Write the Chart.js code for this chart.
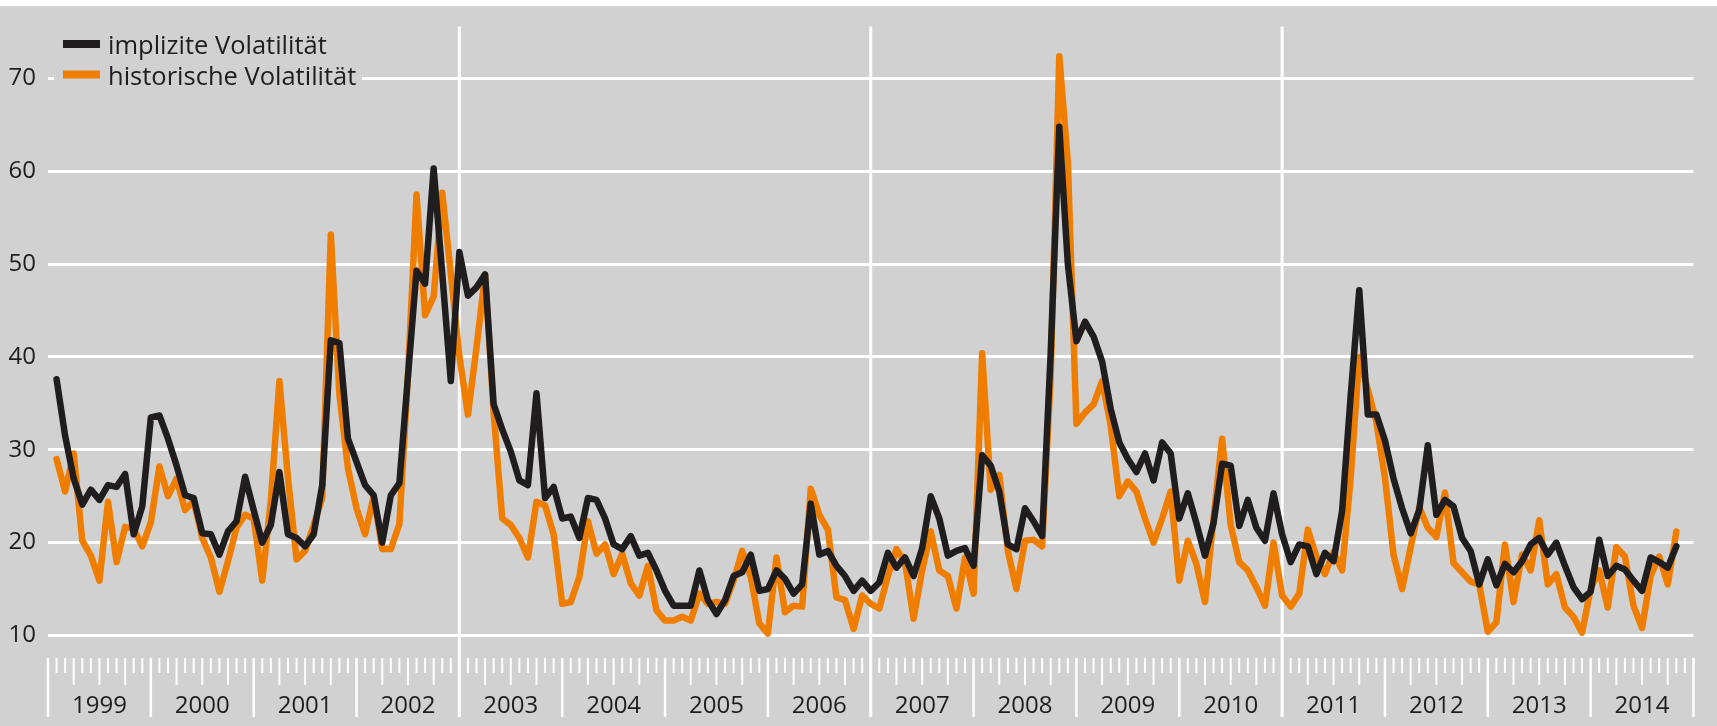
<!DOCTYPE html>
<html>
<head>
<meta charset="utf-8">
<script src="https://cdn.jsdelivr.net/npm/chart.js@4/dist/chart.umd.min.js"></script>
<style>
  html, body { margin: 0; padding: 0; background: #ffffff; }
  #wrap { width: 1717px; height: 726px; position: relative; }
  canvas { display: block; }
</style>
</head>
<body>
<div id="wrap"><canvas id="c" width="1717" height="726"></canvas></div>
<script>
// ---- data (monthly values, 1999 – 2014) ----
const years = ['1999','2000','2001','2002','2003','2004','2005','2006','2007','2008','2009','2010','2011','2012','2013','2014'];
const yTicks = [10, 20, 30, 40, 50, 60, 70];
const seriesNames = ['implizite Volatilität', 'historische Volatilität'];

const impliedVol = [
  37.6, 31.5, 26.9, 24.1, 25.7, 24.6, 26.2, 26.0, 27.4, 20.9,
  23.9, 33.5, 33.7, 31.2, 28.3, 25.1, 24.8, 21.0, 20.9, 18.7,
  21.2, 22.3, 27.1, 23.5, 20.0, 21.9, 27.6, 20.9, 20.5, 19.6,
  20.9, 26.2, 41.8, 41.5, 31.2, 28.7, 26.2, 25.1, 20.0, 25.1,
  26.4, 37.9, 49.3, 47.9, 60.3, 49.0, 37.4, 51.3, 46.6, 47.5,
  48.9, 34.9, 32.2, 29.8, 26.7, 26.2, 36.1, 24.8, 26.0, 22.6,
  22.8, 20.5, 24.8, 24.6, 22.6, 19.8, 19.3, 20.7, 18.6, 18.9,
  17.0, 14.8, 13.2, 13.2, 13.2, 17.0, 13.8, 12.3, 13.8, 16.4,
  16.8, 18.7, 14.8, 15.0, 17.0, 16.1, 14.5, 15.5, 24.2, 18.7,
  19.1, 17.5, 16.4, 14.8, 15.9, 14.8, 15.7, 18.9, 17.3, 18.4,
  16.4, 19.4, 25.0, 22.6, 18.6, 19.1, 19.4, 17.5, 29.4, 28.3,
  25.5, 19.8, 19.3, 23.7, 22.3, 20.7, 40.5, 64.8, 50.0, 41.7,
  43.8, 42.2, 39.5, 34.4, 30.8, 29.0, 27.6, 29.6, 26.7, 30.8,
  29.6, 22.6, 25.3, 22.1, 18.6, 22.1, 28.5, 28.3, 21.8, 24.6,
  21.6, 20.2, 25.3, 20.9, 17.9, 19.8, 19.6, 16.6, 18.9, 18.0,
  23.4, 35.8, 47.2, 33.8, 33.8, 31.0, 26.9, 23.7, 21.0, 23.5,
  30.5, 23.0, 24.6, 23.9, 20.5, 19.1, 15.5, 18.2, 15.4, 17.7,
  16.8, 18.0, 19.8, 20.5, 18.7, 20.0, 17.5, 15.2, 13.9, 14.7,
  20.3, 16.4, 17.5, 17.1, 15.9, 14.8, 18.4, 17.9, 17.3, 19.6
];

const historicalVol = [
  29.0, 25.5, 29.6, 20.2, 18.6, 15.9, 24.4, 17.9, 21.7, 21.5,
  19.6, 22.2, 28.2, 25.0, 26.9, 23.5, 24.5, 20.5, 18.4, 14.7,
  18.0, 21.6, 23.0, 22.6, 15.9, 24.5, 37.4, 27.0, 18.2, 19.1,
  21.9, 24.8, 53.2, 36.0, 28.0, 23.7, 20.9, 25.0, 19.3, 19.3,
  22.0, 38.0, 57.5, 44.5, 46.5, 57.7, 49.0, 40.1, 33.8, 41.0,
  48.9, 34.0, 22.6, 21.9, 20.5, 18.4, 24.4, 24.0, 20.9, 13.4,
  13.6, 16.3, 22.3, 18.8, 19.8, 16.6, 18.8, 15.6, 14.3, 17.5,
  12.7, 11.6, 11.6, 12.0, 11.6, 14.5, 13.4, 13.6, 13.4, 15.9,
  19.1, 16.3, 11.3, 10.2, 18.4, 12.5, 13.2, 13.1, 25.8, 23.0,
  21.4, 14.1, 13.8, 10.7, 14.3, 13.4, 12.9, 16.4, 19.3, 17.9,
  11.8, 17.0, 21.2, 17.0, 16.4, 12.9, 18.4, 14.5, 40.4, 25.7,
  27.3, 19.1, 15.0, 20.2, 20.3, 19.6, 38.0, 72.4, 61.0, 32.8,
  34.0, 34.9, 37.4, 32.6, 25.0, 26.6, 25.5, 22.6, 20.0, 22.6,
  25.5, 15.9, 20.2, 17.7, 13.6, 22.6, 31.2, 21.9, 17.9, 17.0,
  15.2, 13.2, 20.0, 14.3, 13.1, 14.5, 21.4, 18.5, 16.6, 19.0,
  17.0, 27.0, 40.0, 36.5, 33.0, 27.0, 18.7, 15.0, 19.5, 23.8,
  21.6, 20.6, 25.4, 17.8, 16.8, 15.8, 15.5, 10.4, 11.4, 19.8,
  13.6, 18.7, 17.0, 22.4, 15.5, 16.6, 13.0, 12.0, 10.3, 15.0,
  17.0, 13.0, 19.5, 18.5, 13.2, 10.8, 16.4, 18.5, 15.5, 21.2
];

// ---- styling ----
const BG = '#d1d1d1';
const TEXT = '#1e1e1e';
const FONT = '"Open Sans", "Noto Sans", sans-serif';
const colImplied = '#1f1d1e';
const colHist = '#ef7d00';

const totalMonths = years.length * 12;
const toPoints = arr => arr.map((v, i) => ({ x: i + 1, y: v }));

const bgPlugin = {
  id: 'bgPlugin',
  beforeDraw(chart) {
    const { ctx, width, height } = chart;
    ctx.save();
    ctx.fillStyle = '#ffffff';
    ctx.fillRect(0, 0, width, height);
    ctx.fillStyle = BG;
    ctx.fillRect(0, 6, width, height - 6);
    ctx.restore();
  }
};

const monthTicks = {
  id: 'monthTicks',
  beforeDatasetsDraw(chart) {
    const { ctx, chartArea, scales } = chart;
    const x = scales.x;
    const top = x.top + 13;
    ctx.save();
    ctx.strokeStyle = '#ffffff';
    for (let m = 0; m <= totalMonths; m++) {
      const px = x.getPixelForValue(m);
      let y0 = top, y1;
      if (m % 48 === 0 && m > 0 && m < totalMonths) {
        ctx.lineWidth = 3; y0 = chartArea.top; y1 = x.top + 72;
      } else if (m % 12 === 0) {
        ctx.lineWidth = 2.5; y1 = x.top + 72;
      } else if (m % 3 === 0) {
        ctx.lineWidth = 2; y1 = x.top + 40;
      } else {
        ctx.lineWidth = 2; y1 = x.top + 28;
      }
      ctx.beginPath();
      ctx.moveTo(px, y0);
      ctx.lineTo(px, y1);
      ctx.stroke();
    }
    ctx.restore();
  }
};

const boxLegend = {
  id: 'boxLegend',
  afterDraw(chart) {
    const ctx = chart.ctx;
    ctx.save();
    ctx.fillStyle = BG;
    ctx.fillRect(54, 28, 308, 64);
    chart.data.datasets.forEach((ds, k) => {
      const base = 54 + k * 30.5;
      ctx.strokeStyle = ds.borderColor;
      ctx.lineWidth = 8;
      ctx.lineCap = 'butt';
      ctx.beginPath();
      ctx.moveTo(63, base - 10);
      ctx.lineTo(100, base - 10);
      ctx.stroke();
      ctx.fillStyle = TEXT;
      ctx.font = '25.5px ' + FONT;
      ctx.textBaseline = 'alphabetic';
      ctx.textAlign = 'left';
      ctx.fillText(ds.label, 108, base);
    });
    ctx.restore();
  }
};

new Chart(document.getElementById('c'), {
  type: 'line',
  data: {
    datasets: [
      {
        label: seriesNames[0],
        data: toPoints(impliedVol),
        borderColor: colImplied,
        borderWidth: 6.5,
        pointRadius: 0,
        borderJoinStyle: 'round',
        borderCapStyle: 'round',
        tension: 0,
        fill: false
      },
      {
        label: seriesNames[1],
        data: toPoints(historicalVol),
        borderColor: colHist,
        borderWidth: 6.5,
        pointRadius: 0,
        borderJoinStyle: 'round',
        borderCapStyle: 'round',
        tension: 0,
        fill: false
      }
    ]
  },
  options: {
    responsive: false,
    animation: false,
    devicePixelRatio: 1,
    layout: { padding: { top: 20, right: 16, left: 0, bottom: 0 } },
    plugins: {
      legend: { display: false },
      tooltip: { enabled: false },
      title: { display: false }
    },
    scales: {
      x: {
        type: 'linear',
        min: 0,
        max: totalMonths,
        afterFit(scale) { scale.height = 81; },
        afterBuildTicks(scale) {
          scale.ticks = years.map((y, k) => ({ value: k * 12 + 6 }));
        },
        grid: { display: false, drawTicks: false },
        border: { display: false },
        ticks: {
          autoSkip: false,
          maxRotation: 0,
          padding: 47,
          color: TEXT,
          font: { family: FONT, size: 24 },
          callback: (v) => years[Math.round((v - 6) / 12)]
        }
      },
      y: {
        type: 'linear',
        min: 8.966,
        max: 75.62,
        afterFit(scale) { scale.width = 48; },
        afterBuildTicks(scale) {
          scale.ticks = yTicks.map(v => ({ value: v }));
        },
        grid: { color: '#ffffff', lineWidth: 3, drawTicks: false },
        border: { display: false },
        ticks: {
          padding: 12,
          color: TEXT,
          font: { family: FONT, size: 24 }
        }
      }
    }
  },
  plugins: [bgPlugin, monthTicks, boxLegend]
});
</script>
</body>
</html>
